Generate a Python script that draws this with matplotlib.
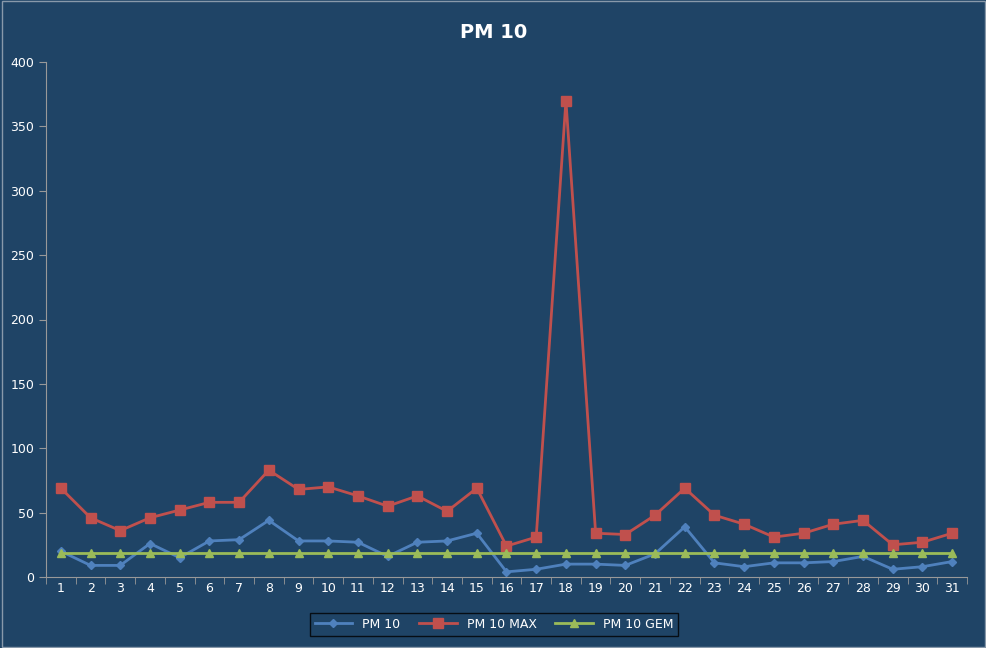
import matplotlib.pyplot as plt
import numpy as np

days = list(range(1, 32))
pm10 = [20, 9, 9, 26, 15, 28, 29, 44, 28, 28, 27, 16, 27, 28, 34, 4, 6, 10, 10, 9,
        18, 39, 11, 8, 11, 11, 12, 16, 6, 8, 12]
pm10_max = [69, 46, 36, 46, 52, 58, 58, 83, 68, 70, 63, 55, 63, 51, 69, 24, 31, 370, 34, 33,
            48, 69, 48, 41, 31, 34, 41, 44, 25, 27, 34]
pm10_gem = [18.5] * 31

bg = "#1F4466"
fig = plt.figure(figsize=(9.87, 6.48), dpi=100, facecolor=bg)
fig.patches.append(plt.Rectangle((0.002, 0.002), 0.996, 0.996, transform=fig.transFigure,
                                 fill=False, edgecolor="#8899aa", linewidth=1))
ax = fig.add_axes([46 / 987, 1 - 577 / 648, 921 / 987, 515 / 648])
ax.set_facecolor(bg)

ax.plot(days, pm10, color="#4F81BD", marker="D", markersize=4.5, linewidth=2, label="PM 10")
ax.plot(days, pm10_max, color="#C0504D", marker="s", markersize=6.5, linewidth=2, label="PM 10 MAX")
ax.plot(days, pm10_gem, color="#9BBB59", marker="^", markersize=6, linewidth=2, label="PM 10 GEM")

ax.set_xlim(0.5, 31.5)
ax.set_ylim(0, 400)
ax.set_yticks(range(0, 401, 50))
ax.set_xticks(days)
ax.set_xticks(np.arange(0.5, 32, 1), minor=True)
ax.tick_params(axis="x", which="major", length=0, colors="white", labelsize=9)
ax.tick_params(axis="x", which="minor", length=5, color="#999999")
ax.tick_params(axis="y", length=5, color="#999999", colors="white", labelsize=9)
for side in ["top", "right"]:
    ax.spines[side].set_visible(False)
for side in ["left", "bottom"]:
    ax.spines[side].set_color("#999999")

fig.text(0.5, 1 - 32 / 648, "PM 10", color="white", fontsize=14, fontweight="bold",
         ha="center", va="center")

leg = fig.legend(loc="center", bbox_to_anchor=(494 / 987, 1 - 624 / 648), ncol=3,
                 frameon=True, fontsize=9, handlelength=3, columnspacing=1.5)
leg.get_frame().set_facecolor(bg)
leg.get_frame().set_edgecolor("black")
leg.get_frame().set_boxstyle("square", pad=0)
for t in leg.get_texts():
    t.set_color("white")

fig.savefig("out.png", facecolor=bg)
